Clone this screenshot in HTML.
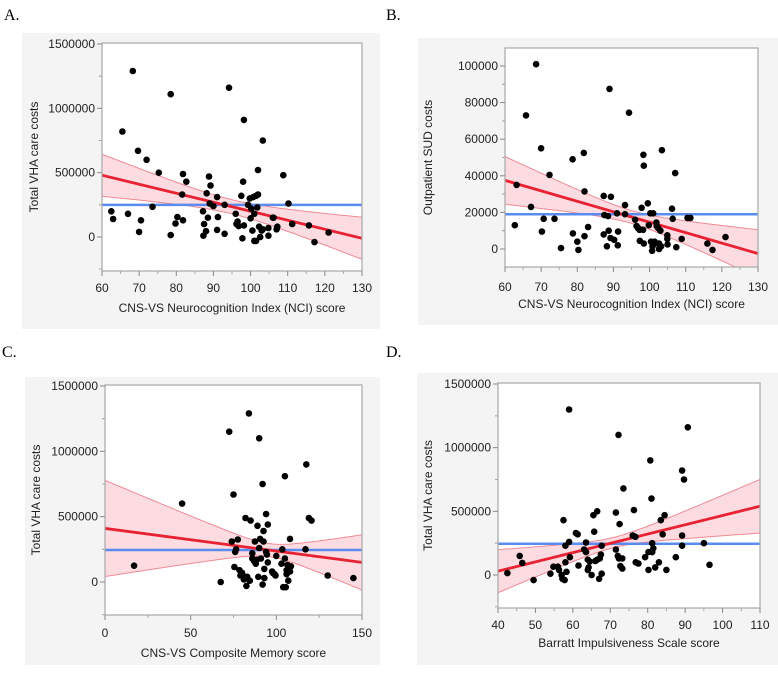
<!DOCTYPE html>
<html><head><meta charset="utf-8"><style>
html,body{margin:0;padding:0;background:#fff;}
svg{display:block;font-family:"Liberation Sans",sans-serif;}
</style></head><body>
<svg id="fig" width="778" height="675" viewBox="0 0 778 675" xmlns="http://www.w3.org/2000/svg">
<text x="4" y="20" font-family="Liberation Serif,serif" font-size="16">A.</text>
<text x="386" y="20" font-family="Liberation Serif,serif" font-size="16">B.</text>
<text x="2" y="357" font-family="Liberation Serif,serif" font-size="16">C.</text>
<text x="386" y="357" font-family="Liberation Serif,serif" font-size="16">D.</text>
</svg>
<script>
// ---- Panel A data ----
const aX = [62.5,63,65.5,67,68.3,69.7,70,70.5,72,73.6,75.3,78.5,78.5,79.8,80.3,81.6,81.8,81.8,82.7,87.2,87.3,87.5,88,88.2,88.5,88.8,89,89.2,90,91,91,91.2,93,93,94.2,96,96.2,96.5,96.8,97.5,97.8,98,98.2,98.2,99.3,99.8,100,100.2,100.5,100.7,101,101,101.5,101.5,101.8,102,102,102.3,102.6,103,103.3,103.3,104.8,104.8,106,106.2,107,107.2,108.8,110.2,111.2,115.7,117.2,121];
const aY = [200,140,820,180,1290,670,40,130,600,235,500,1110,15,105,155,330,130,490,430,200,10,100,45,340,150,470,260,400,240,55,310,155,250,25,1160,180,100,120,85,320,-10,430,910,90,250,300,145,220,50,310,-30,180,320,-30,230,330,520,80,0,50,750,60,70,10,150,150,60,80,480,260,100,90,-40,35];
const aFit = [480,-10];      // fitted value at x-min, x-max (thousands)
const aMean = [250];
const aCI = [95,55,4.4];     // center x, half-width at center, slope factor
const aXTicks = [60,70,80,90,100,110,120,130];
const aYTicks = [0,500000,1000000,1500000];
// ---- Panel B data ----
const bX = [62.7,63.2,65.8,67.2,68.6,70,70.2,70.7,72.3,73.7,75.5,78.7,78.8,80,80.3,81.8,82,82,83,87.3,87.3,87.5,88.2,88.5,88.7,88.9,89.2,89.3,90.2,91,91.2,91.3,93.2,93.2,94.3,96,96.4,96.8,97.2,97.3,97.8,98.2,98.3,98.4,98.4,99.5,99.8,100.2,100.4,100.7,100.8,101,101.2,101.4,101.9,102,102.4,102.6,102.6,103,103.2,103.4,104.9,104.9,105,106.2,106.4,107.1,107.4,108.9,110.5,111.3,116,117.4,121];
const bY = [13,35,73,23,101,55,9.5,16.5,40.5,16.5,0.5,49,8.5,4,-0.5,52.5,31.5,7,12,29,8,18.5,1.5,18,10,87.5,6,28.5,5,19.5,2,9.5,24,19,74.5,16,12.5,11.5,10.5,4.5,22.5,10.5,51.5,45.5,3,25,13,19.5,4,-1,1.5,19.5,2.5,4,14.5,12.5,11.5,3,0,10,1.5,54,7.5,5.5,2.5,22,16.5,41.5,1,5.5,17,17,3,-0.5,6.5];
const bFit = [37.5,-2.5];
const bMean = [19];
const bCI = [95,3.5,0.36];
const bXTicks = [60,70,80,90,100,110,120,130];
const bYTicks = [0,20000,40000,60000,80000,100000];
// ---- Panel C data ----
const cX = [17,45,67.5,72.5,74,75,75.5,76,76.5,77.5,78.5,79,80,81,81.5,82,82.5,83,84,84.5,85,86,86,87,87.5,88,88.5,89,89.5,90,90,90.5,91,92,92,92.5,92.5,93,93,94,94,94.5,95,95,97.5,98,99,99.5,100,103,103.5,104,105,105,105.5,106,106,106.5,107,108,108,108.5,117,117.5,119,120.5,130,145];
const cY = [125,600,0,1150,310,670,115,230,250,325,90,50,70,20,40,490,-30,40,1290,10,470,220,180,160,310,140,170,430,40,1100,260,330,180,750,-20,390,310,100,30,520,230,210,150,440,80,70,60,50,200,140,250,-40,810,180,-40,90,60,130,10,330,80,120,250,900,490,470,50,30];
const cFit = [410,150];
const cMean = [245];
const cCI = [96,50,3.8];
const cXTicks = [0,50,100,150];
const cYTicks = [0,500000,1000000,1500000];
// ---- Panel D data ----
const dX = [42.5,45.8,46.5,49.5,54,54.8,56,56.3,57,57.2,57.5,57.8,58,58,58.3,59,59,59.2,60.8,61.3,61.5,63,63.5,63.5,64,64,64.2,64.5,65,65.5,65.7,66,66.5,66.5,67,67.2,67.5,67.7,67.7,71.5,71.5,72,72.2,72.3,72.5,72.7,73.2,73.2,73.5,76,76.3,76.7,76.8,77.5,79.3,80.2,80.2,80.7,81,81.2,81.2,81.5,82,83,83.5,84,84.5,85,87.5,89.2,89.2,89.2,89.7,90.7,95,96.5];
const dY = [15,150,95,-40,10,65,65,40,0,-30,430,-40,230,100,25,1300,260,140,330,320,75,200,180,255,120,40,60,105,0,470,340,110,500,120,-30,130,160,230,10,490,200,150,1100,130,400,70,50,130,680,310,510,300,100,90,140,180,40,900,600,180,250,210,60,100,430,320,470,40,140,820,310,230,750,1160,250,80];
const dFit = [30,540];
const dMean = [245];
const dCI = [71,40,5.3];
const dXTicks = [40,50,60,70,80,90,100,110];
const dYTicks = [0,500000,1000000,1500000];

const NS = "http://www.w3.org/2000/svg";
const svg = document.getElementById('fig');
function mk(tag, attrs, parent){
  const e = document.createElementNS(NS, tag);
  for (const k in attrs) e.setAttribute(k, attrs[k]);
  (parent||svg).appendChild(e);
  return e;
}
let clipN = 0;
function panel(p){
  const g = mk('g', {});
  
  
  const bg = mk('rect', {x:p.bg[0], y:p.bg[1], width:p.bg[2], height:p.bg[3], fill:'#f4f4f4'}, g);
  
  
  const L=p.plot[0], R=p.plot[1], T=p.plot[2], B=p.plot[3];
  const pr = mk('rect', {x:L, y:T, width:R-L, height:B-T, fill:'#fff'}, g);
  
  
  const sx = v => p.xp[0] + (v - p.xd[0]) / (p.xd[1] - p.xd[0]) * (p.xp[1] - p.xp[0]);
  const sy = v => p.yp[0] + (v - p.yd[0]) / (p.yd[1] - p.yd[0]) * (p.yp[1] - p.yp[0]);
  const cid = 'clip' + (clipN++);
  const cp = mk('clipPath', {id:cid}, g);
  mk('rect', {x:L, y:T, width:R-L, height:B-T}, cp);
  const inner = mk('g', {'clip-path':'url(#'+cid+')'}, g);
  // CI band
  const x0 = p.xd0, x1 = p.xd1;
  const fit = x => p.fit[0] + (p.fit[1]-p.fit[0]) * (x - x0)/(x1 - x0);
  const hw = x => Math.sqrt(p.ci[1]*p.ci[1] + p.ci[2]*p.ci[2]*(x-p.ci[0])*(x-p.ci[0]));
  const up=[], lo=[];
  for (let i=0;i<=60;i++){
    const x = x0 + (x1-x0)*i/60;
    up.push(sx(x).toFixed(1)+','+sy((fit(x)+hw(x))*p.unit).toFixed(1));
    lo.push(sx(x).toFixed(1)+','+sy((fit(x)-hw(x))*p.unit).toFixed(1));
  }
  const band = mk('polygon', {points: up.concat(lo.reverse()).join(' '), fill:'rgba(250,150,165,0.33)', stroke:'none'}, inner);
  
  
  const ub = mk('polyline', {points: up.join(' '), fill:'none', stroke:'#f08a94', 'stroke-width':1}, inner);
  
  
  const lb = mk('polyline', {points: lo.join(' '), fill:'none', stroke:'#f08a94', 'stroke-width':1}, inner);
  
  
  // mean line
  const ml = mk('line', {x1:L, x2:R, y1:sy(p.mean[0]*p.unit), y2:sy(p.mean[0]*p.unit), stroke:'#5a8cf0', 'stroke-width':2.5}, inner);
  
  
  // fit line
  const fl = mk('line', {x1:sx(x0), x2:sx(x1), y1:sy(p.fit[0]*p.unit), y2:sy(p.fit[1]*p.unit), stroke:'#e82232', 'stroke-width':2.8}, inner);
  
  
  // points
  for (let i=0;i<p.xs.length;i++){
    const c = mk('circle', {cx:sx(p.xs[i]).toFixed(1), cy:sy(p.ys[i]*p.unit).toFixed(1), r:3.3, fill:'#000'}, inner);
    
    
  }
  // frame
  const fr = mk('rect', {x:L, y:T, width:R-L, height:B-T, fill:'none', stroke:'#a8a8a8', 'stroke-width':1.2}, g);
  
  
  // x ticks
  for (let i=0;i<p.xt.length;i++){
    const X = sx(p.xt[i]);
    mk('line', {x1:X, x2:X, y1:B, y2:B+5, stroke:'#888'}, g);
    if (i<p.xt.length-1){ const Xm = sx((p.xt[i]+p.xt[i+1])/2); mk('line', {x1:Xm, x2:Xm, y1:B, y2:B+3, stroke:'#aaa'}, g); }
    const t = mk('text', {x:X, y:p.xly, 'text-anchor':'middle', 'font-size':12, fill:'#222'}, g);
    t.textContent = p.xt[i];
    
    
  }
  for (let i=0;i<p.yt.length;i++){
    const Y = sy(p.yt[i]);
    mk('line', {x1:L-5, x2:L, y1:Y, y2:Y, stroke:'#888'}, g);
    const half = (p.yt[1]-p.yt[0])/2;
    [p.yt[i]-half, p.yt[i]+half].forEach(v=>{ const Ym=sy(v); if (Ym>T && Ym<B) mk('line', {x1:L-3, x2:L, y1:Ym, y2:Ym, stroke:'#aaa'}, g); });
    const t = mk('text', {x:L-7, y:Y+4, 'text-anchor':'end', 'font-size':12, fill:'#222'}, g);
    t.textContent = p.yt[i];
    
    
  }
  const xt = mk('text', {x:(L+R)/2, y:p.xty, 'text-anchor':'middle', 'font-size':12, fill:'#222'}, g);
  xt.textContent = p.xtitle;
  
  
  const ytx = p.ytx, yty = (T+B)/2;
  const yt = mk('text', {x:ytx, y:yty, 'text-anchor':'middle', 'font-size':12, fill:'#222', transform:'rotate(-90 '+ytx+' '+yty+')'}, g);
  yt.textContent = p.ytitle;
  
  
}
panel({id:'a', bg:[22,33,358,296], plot:[102,362,43,271], xd:[60,130], xp:[102,362], yd:[0,1500000], yp:[237,44],
  xd0:60, xd1:130, unit:1000, xs:aX, ys:aY, fit:aFit, mean:aMean, ci:aCI, xt:aXTicks, yt:aYTicks,
  xly:292, xty:312, ytx:38, xtitle:'CNS-VS Neurocognition Index (NCI) score', ytitle:'Total VHA care costs'});
panel({id:'b', bg:[418,38,360,287], plot:[505,758,48,267], xd:[60,130], xp:[505,758], yd:[0,100000], yp:[249,66],
  xd0:60, xd1:130, unit:1000, xs:bX, ys:bY, fit:bFit, mean:bMean, ci:bCI, xt:bXTicks, yt:bYTicks,
  xly:291, xty:308, ytx:432, xtitle:'CNS-VS Neurocognition Index (NCI) score', ytitle:'Outpatient SUD costs'});
panel({id:'c', bg:[25,377,355,288], plot:[105,362,385,615], xd:[0,150], xp:[105,362], yd:[0,1500000], yp:[582,386],
  xd0:0, xd1:150, unit:1000, xs:cX, ys:cY, fit:cFit, mean:cMean, ci:cCI, xt:cXTicks, yt:cYTicks,
  xly:637, xty:657, ytx:40, xtitle:'CNS-VS Composite Memory score', ytitle:'Total VHA care costs'});
panel({id:'d', bg:[417,373,361,292], plot:[498,760,383,608], xd:[40,110], xp:[498,760], yd:[0,1500000], yp:[575,384],
  xd0:40, xd1:110, unit:1000, xs:dX, ys:dY, fit:dFit, mean:dMean, ci:dCI, xt:dXTicks, yt:dYTicks,
  xly:629, xty:647, ytx:432, xtitle:'Barratt Impulsiveness Scale score', ytitle:'Total VHA care costs'});
</script>
</body></html>
